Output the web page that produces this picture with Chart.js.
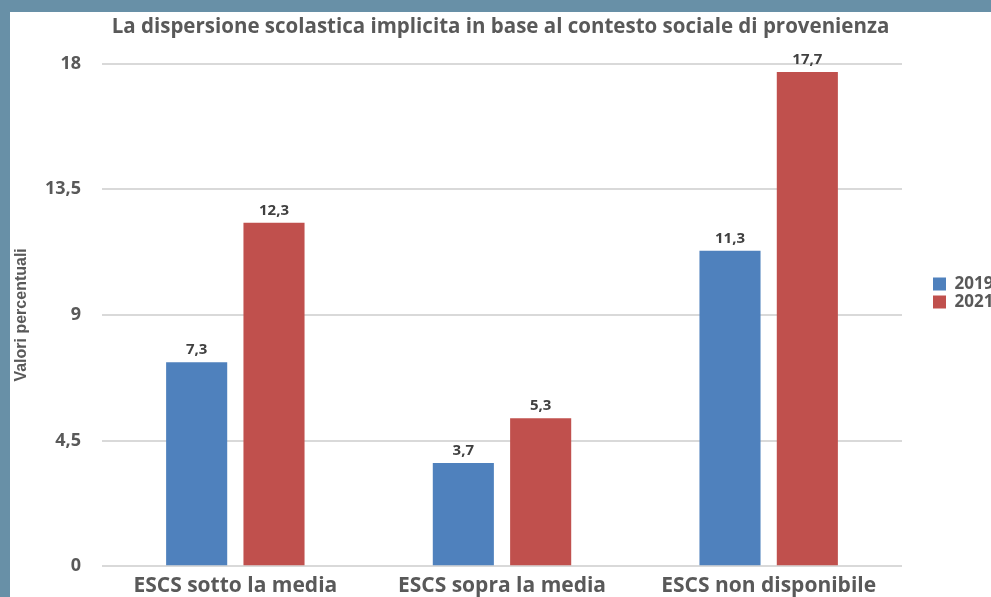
<!DOCTYPE html>
<html>
<head>
<meta charset="utf-8">
<script src="https://cdn.jsdelivr.net/npm/chart.js@4"></script>
<style>
  html, body { margin: 0; padding: 0; background: #6890a7; overflow: hidden; }
  #wrap { position: absolute; left: 10px; top: 12px; width: 981px; height: 586px; background: #fff; }
</style>
</head>
<body>
<div id="wrap"><canvas id="grafico"></canvas></div>
<script>
const categorie = ["ESCS sotto la media", "ESCS sopra la media", "ESCS non disponibile"];
const valori2019 = [7.3, 3.7, 11.3];
const valori2021 = [12.3, 5.3, 17.7];
const anni = ["2019", "2021"];
const font = "'Open Sans', sans-serif";

function virgola(v) {
    return String(v).replace(".", ",");
}

// etichette sopra le barre
const etichette = {
    id: "etichette",
    afterDatasetsDraw(chart) {
        const ctx = chart.ctx;
        ctx.save();
        ctx.font = "bold 15px " + font;
        ctx.fillStyle = "#404040";
        ctx.textAlign = "center";
        ctx.textBaseline = "alphabetic";
        chart.data.datasets.forEach((ds, i) => {
            chart.getDatasetMeta(i).data.forEach((bar, j) => {
                ctx.fillText(virgola(ds.data[j]), bar.x, bar.y - 8);
            });
        });
        ctx.restore();
    }
};

// legenda a larghezza fissa, staccata dall'area del grafico
const spostaLegenda = {
    id: "spostaLegenda",
    beforeLayout(chart) {
        const leg = chart.legend;
        if (leg && !leg._spostata) {
            const fit = leg.fit;
            leg.fit = function () {
                fit.call(this);
                this.width = 89;
            };
            leg._spostata = true;
        }
    },
    afterLayout(chart) {
        const leg = chart.legend;
        leg.left += 30;
        leg.right += 30;
        leg.top -= 12;
        leg.bottom -= 12;
    }
};

new Chart(document.getElementById("grafico"), {
    type: "bar",
    data: {
        labels: categorie,
        datasets: [
            { label: anni[0], data: valori2019, backgroundColor: "#4f81bd" },
            { label: anni[1], data: valori2021, backgroundColor: "#c0504d" }
        ]
    },
    options: {
        responsive: true,
        maintainAspectRatio: false,
        animation: false,
        datasets: { bar: { categoryPercentage: 0.58, barPercentage: 0.79 } },
        layout: { padding: 0 },
        plugins: {
            title: {
                display: true,
                text: "La dispersione scolastica implicita in base al contesto sociale di provenienza",
                color: "#595959",
                font: { family: font, size: 20.5, weight: "bold" },
                padding: { top: 3, bottom: 24 }
            },
            legend: {
                position: "right",
                labels: {
                    boxWidth: 13,
                    boxHeight: 13,
                    padding: 1,
                    color: "#595959",
                    font: { family: font, size: 17, weight: "bold" }
                }
            },
            tooltip: { enabled: false }
        },
        scales: {
            x: {
                grid: { display: false },
                border: { display: false },
                ticks: { color: "#595959", font: { family: font, size: 21, weight: "bold", lineHeight: 1.1 }, padding: 0 }
            },
            y: {
                min: 0,
                max: 18,
                afterFit: scala => { scala.width = 92; },
                grid: { color: "#d9d9d9", lineWidth: 2, drawTicks: false },
                border: { display: false },
                ticks: {
                    stepSize: 4.5,
                    color: "#595959",
                    padding: 21,
                    font: { family: font, size: 18, weight: "bold" },
                    callback: v => virgola(v)
                },
                title: {
                    display: true,
                    text: "Valori percentuali",
                    color: "#595959",
                    font: { family: "'Liberation Sans', Arial, sans-serif", size: 16, weight: "bold" },
                    padding: { top: 2, bottom: 10 }
                }
            }
        }
    },
    plugins: [etichette, spostaLegenda]
});
</script>
</body>
</html>
